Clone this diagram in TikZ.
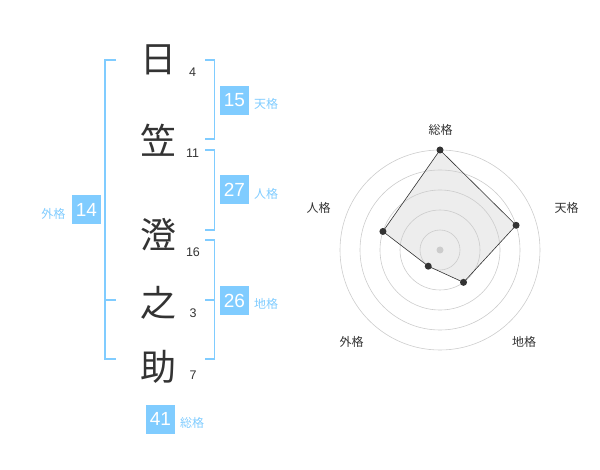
\documentclass[tikz,border=0pt]{standalone}
\usepackage{fontspec}
\setmainfont{Liberation Sans}
\newfontfamily\jpfont{Noto Sans CJK JP}
\usetikzlibrary{calc}
\definecolor{kakublue}{HTML}{80CCFF}
\definecolor{inkgray}{HTML}{333333}

\tikzset{
  kanji/.style={font=\jpfont\fontsize{36}{36}\selectfont, text=inkgray, inner sep=0pt},
  strokes/.style={font=\fontsize{12.5}{12.5}\selectfont, text=inkgray, inner sep=0pt},
  kakubox/.style={fill=kakublue, text=white, minimum size=29pt, inner sep=0pt, font=\fontsize{19}{19}\selectfont},
  kakulabel/.style={text=kakublue, font=\jpfont\fontsize{12}{12}\selectfont, inner sep=0pt},
  bracket/.style={draw=kakublue, line width=1.6pt},
  ring/.style={draw=black!20, line width=0.6pt},
  axislabel/.style={font=\jpfont\fontsize{12}{12}\selectfont, text=inkgray, inner sep=0pt},
  scoredot/.style={circle, fill=inkgray, inner sep=0pt, minimum size=7pt}
}

\begin{document}
\begin{tikzpicture}[x=1pt,y=-1pt]
    \useasboundingbox (0,0) rectangle (600,470);
    % name
    \node[kanji] (c1) at (158,60) {日};
    \node[kanji] (c2) at (158,140) {笠};
    \node[kanji] (c3) at (158,235) {澄};
    \node[kanji] (c4) at (158,303) {之};
    \node[kanji] (c5) at (158,367) {助};
    \node[strokes] (s1) at (192.5,72.5) {4};
    \node[strokes] (s2) at (192.5,153) {11};
    \node[strokes] (s3) at (193,252) {16};
    \node[strokes] (s4) at (193,313) {3};
    \node[strokes] (s5) at (193,375) {7};
    % brackets
    \draw[bracket] (116,60) -- (105,60) -- (105,359) -- (116,359);
    \draw[bracket] (105,300) -- (116,300);
    \draw[bracket] (205,60) -- (214.5,60) -- (214.5,139) -- (205,139);
    \draw[bracket] (205,150) -- (214.5,150) -- (214.5,230) -- (205,230);
    \draw[bracket] (205,240) -- (214.5,240) -- (214.5,359) -- (205,359);
    \draw[bracket] (205,300) -- (214.5,300);
    % scores
    \node[kakubox] (ten) at (234.5,100.5) {15};
    \node[kakulabel] (tenl) at (266,104) {天格};
    \node[kakubox] (jin) at (234.5,190) {27};
    \node[kakulabel] (jinl) at (266,194) {人格};
    \node[kakubox] (chi) at (234.5,301) {26};
    \node[kakulabel] (chil) at (266,304) {地格};
    \node[kakubox] (gai) at (86.5,210) {14};
    \node[kakulabel] (gail) at (53.5,214) {外格};
    \node[kakubox] (sou) at (160.5,419) {41};
    \node[kakulabel] (soul) at (192,422.5) {総格};
    % radar
    \begin{scope}[shift={(440,250)}, y=1pt]
        \coordinate (rsou) at (90:100);
        \coordinate (rten) at (18:80);
        \coordinate (rchi) at (-54:40);
        \coordinate (rgai) at (-126:20);
        \coordinate (rjin) at (162:60);
        \fill[black!7] (rsou) -- (rten) -- (rchi) -- (rgai) -- (rjin) -- cycle;
        \foreach \r in {20,40,60,80,100}
            \draw[ring] (0,0) circle (\r pt);
        \fill[black!20] (0,0) circle (3.5pt);
        \draw[inkgray, line width=0.6pt] (rsou) -- (rten) -- (rchi) -- (rgai) -- (rjin) -- cycle;
        \foreach \p in {rsou,rten,rchi,rgai,rjin}
            \node[scoredot] at (\p) {};
    \end{scope}
    \node[axislabel] (asou) at (440.5,130) {総格};
    \node[axislabel] (aten) at (566.5,208) {天格};
    \node[axislabel] (achi) at (524,341.5) {地格};
    \node[axislabel] (agai) at (351.5,341.5) {外格};
    \node[axislabel] (ajin) at (318.5,208) {人格};
\end{tikzpicture}
\end{document}
